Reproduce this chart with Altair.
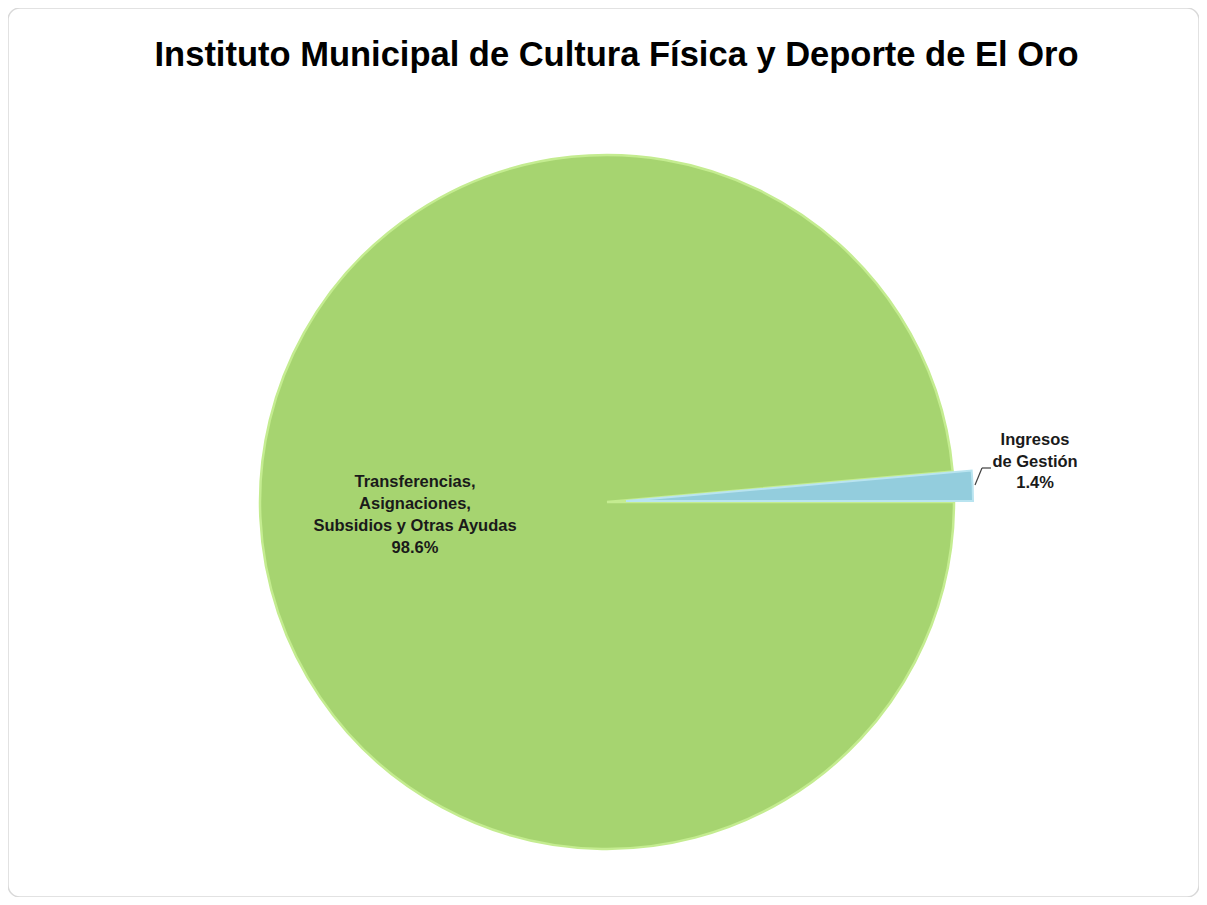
import math
import altair as alt
import pandas as pd

title_text = "Instituto Municipal de Cultura Física y Deporte de El Oro"
categories = ["Transferencias, Asignaciones, Subsidios y Otras Ayudas", "Ingresos de Gestión"]
values = [98.6, 1.4]
label_lines = [
    ["Transferencias,", "Asignaciones,", "Subsidios y Otras Ayudas", "98.6%"],
    ["Ingresos", "de Gestión", "1.4%"],
]
orders = [1, 2]

df = pd.DataFrame({"category": categories, "value": values, "order": orders,
                   "label": label_lines})

W, H = 1191, 889
CX, CY = 599, 494  # pie centre inside the view
R = 347
FONT = "Liberation Sans"

theta_scale = alt.Scale(domain=[0, 100], range=[math.pi / 2, math.pi / 2 + 2 * math.pi])

base = (
    alt.Chart(df)
    .transform_window(cum="sum(value)", sort=[alt.SortField("order")], frame=[None, 0])
    .transform_calculate(start="datum.cum - datum.value")
)

green = base.transform_filter(alt.datum.order == 1).mark_arc(
    radius=R, fill="#A6D470", stroke="#C4EC90", strokeWidth=2.5
).encode(
    theta=alt.Theta("start:Q", scale=theta_scale),
    theta2="cum:Q",
    x=alt.value(CX), y=alt.value(CY),
)

blue = base.transform_filter(alt.datum.order == 2).mark_arc(
    radius=R, fill="#93CDDD", stroke="#B9E4F0", strokeWidth=2
).encode(
    theta=alt.Theta("start:Q", scale=theta_scale),
    theta2="cum:Q",
    x=alt.value(CX + 19), y=alt.value(CY - 1),
)

green_label = base.transform_filter(alt.datum.order == 1).mark_text(
    font=FONT, fontSize=16.5, fontWeight="bold", color="#1a1a1a",
    align="center", baseline="middle", lineHeight=22
).encode(
    text="label",
    x=alt.value(407), y=alt.value(473.5),
)

blue_label = base.transform_filter(alt.datum.order == 2).mark_text(
    font=FONT, fontSize=16.5, fontWeight="bold", color="#1a1a1a",
    align="center", baseline="middle", lineHeight=21.5
).encode(
    text="label",
    x=alt.value(1027), y=alt.value(432),
)

leader1 = base.transform_filter(alt.datum.order == 2).mark_rule(
    color="#404040", strokeWidth=1.2
).encode(x=alt.value(967), y=alt.value(477), x2=alt.value(974), y2=alt.value(460))
leader2 = base.transform_filter(alt.datum.order == 2).mark_rule(
    color="#404040", strokeWidth=1.2
).encode(x=alt.value(974), y=alt.value(460), x2=alt.value(983), y2=alt.value(460))

title = alt.Chart(pd.DataFrame({"t": [title_text]})).mark_text(
    font=FONT, fontSize=34.5, fontWeight="bold", color="#000000",
    align="center", baseline="alphabetic"
).encode(text="t:N", x=alt.value(608.5), y=alt.value(58))

chart = (
    alt.layer(green, blue, leader1, leader2, green_label, blue_label, title)
    .properties(width=W, height=H, padding=0, autosize=alt.AutoSizeParams(type="none"),
                background="white")
    .configure_view(stroke="#D9D9D9", strokeWidth=1.5, cornerRadius=12)
)

chart.save("out.html", embed_options={"renderer": "svg", "actions": False})
